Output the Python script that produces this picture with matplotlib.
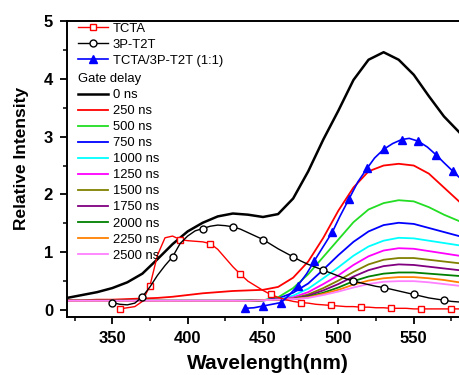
import matplotlib
matplotlib.use("Agg")
import matplotlib.pyplot as plt
from matplotlib.ticker import MultipleLocator

plt.rcParams['font.family'] = ['Liberation Sans', 'DejaVu Sans']

# TCTA steady-state PL, 5 nm steps from 355 nm
tcta_wl = list(range(355, 585, 5))
tcta_val = [0.02, 0.04, 0.06, 0.15, 0.42, 0.95, 1.25, 1.28, 1.22, 1.20,
            1.19, 1.18, 1.15, 1.05, 0.90, 0.75, 0.62, 0.50, 0.42, 0.34,
            0.27, 0.22, 0.18, 0.15, 0.13, 0.12, 0.10, 0.09, 0.08, 0.07,
            0.06, 0.06, 0.05, 0.05, 0.04, 0.04, 0.03, 0.03, 0.03, 0.02,
            0.02, 0.02, 0.02, 0.02, 0.02, 0.02]

# 3P-T2T, 5 nm steps from 350 nm
t2t_wl = list(range(350, 585, 5))
t2t_val = [0.13, 0.10, 0.09, 0.12, 0.23, 0.40, 0.60, 0.77, 0.92, 1.15,
           1.28, 1.37, 1.41, 1.45, 1.47, 1.46, 1.44, 1.40, 1.34, 1.28,
           1.22, 1.14, 1.06, 0.99, 0.92, 0.85, 0.79, 0.74, 0.69, 0.64,
           0.59, 0.54, 0.50, 0.47, 0.44, 0.41, 0.39, 0.36, 0.33, 0.30,
           0.27, 0.24, 0.21, 0.19, 0.17, 0.15, 0.14]

# TCTA/3P-T2T (1:1) blend
blend_wl = [438, 444, 450, 456, 462, 467, 473, 479, 484, 490, 496, 501, 507,
            513, 519, 524, 530, 536, 542, 547, 553, 559, 565, 570, 576, 580]
blend_val = [0.03, 0.04, 0.07, 0.10, 0.13, 0.25, 0.42, 0.63, 0.85, 1.10,
             1.35, 1.62, 1.92, 2.22, 2.45, 2.63, 2.78, 2.88, 2.95, 2.97,
             2.92, 2.82, 2.68, 2.55, 2.40, 2.30]

# time-resolved spectra, 10 nm steps 320-580 nm
gate_wl = list(range(320, 590, 10))
gate_labels = ['0 ns', '250 ns', '500 ns', '750 ns', '1000 ns', '1250 ns',
               '1500 ns', '1750 ns', '2000 ns', '2250 ns', '2500 ns']
gate_colors = ['black', '#ff0000', '#22dd22', '#0000ff', '#00ffff', '#ff00ff',
               '#808000', '#800080', '#008000', '#ff8000', '#ff80ff']
gate_0 = [0.21, 0.26, 0.31, 0.38, 0.48, 0.63, 0.88, 1.14, 1.36, 1.51, 1.62,
          1.67, 1.65, 1.61, 1.66, 1.93, 2.40, 2.95, 3.45, 3.98, 4.33, 4.46,
          4.33, 4.07, 3.70, 3.35, 3.08]
gate_250 = [0.17, 0.17, 0.18, 0.18, 0.19, 0.20, 0.21, 0.23, 0.26, 0.29, 0.31,
            0.33, 0.34, 0.35, 0.40, 0.56, 0.84, 1.25, 1.72, 2.12, 2.40, 2.50,
            2.53, 2.50, 2.36, 2.12, 1.88]
gate_500 = [0.16, 0.16, 0.16, 0.16, 0.16, 0.16, 0.16, 0.16, 0.16, 0.16, 0.16,
            0.16, 0.17, 0.17, 0.22, 0.38, 0.62, 0.92, 1.22, 1.52, 1.74, 1.85,
            1.90, 1.88, 1.78, 1.65, 1.54]
gate_750 = [0.16, 0.16, 0.16, 0.16, 0.16, 0.16, 0.16, 0.16, 0.16, 0.16, 0.16,
            0.16, 0.16, 0.17, 0.20, 0.30, 0.46, 0.70, 0.95, 1.18, 1.36, 1.47,
            1.51, 1.49, 1.42, 1.35, 1.28]
gate_1000 = [0.16, 0.16, 0.16, 0.16, 0.16, 0.16, 0.16, 0.16, 0.16, 0.16, 0.16,
             0.16, 0.16, 0.17, 0.18, 0.25, 0.37, 0.55, 0.74, 0.94, 1.10, 1.20,
             1.25, 1.24, 1.20, 1.16, 1.12]
gate_1250 = [0.16, 0.16, 0.16, 0.16, 0.16, 0.16, 0.16, 0.16, 0.16, 0.16, 0.16,
             0.16, 0.16, 0.17, 0.18, 0.22, 0.31, 0.45, 0.60, 0.78, 0.93, 1.03,
             1.07, 1.06, 1.02, 0.98, 0.94]
gate_1500 = [0.16, 0.16, 0.16, 0.16, 0.16, 0.16, 0.16, 0.16, 0.16, 0.16, 0.16,
             0.16, 0.16, 0.17, 0.18, 0.20, 0.27, 0.38, 0.51, 0.66, 0.79, 0.87,
             0.90, 0.90, 0.87, 0.84, 0.81]
gate_1750 = [0.16, 0.16, 0.16, 0.16, 0.16, 0.16, 0.16, 0.16, 0.16, 0.16, 0.16,
             0.16, 0.16, 0.17, 0.18, 0.19, 0.25, 0.34, 0.45, 0.58, 0.69, 0.76,
             0.79, 0.78, 0.75, 0.72, 0.69]
gate_2000 = [0.16, 0.16, 0.16, 0.16, 0.16, 0.16, 0.16, 0.16, 0.16, 0.16, 0.16,
             0.16, 0.16, 0.17, 0.18, 0.19, 0.23, 0.30, 0.39, 0.50, 0.58, 0.63,
             0.65, 0.65, 0.63, 0.61, 0.59]
gate_2250 = [0.16, 0.16, 0.16, 0.16, 0.16, 0.16, 0.16, 0.16, 0.16, 0.16, 0.16,
             0.16, 0.16, 0.17, 0.18, 0.19, 0.22, 0.28, 0.35, 0.44, 0.51, 0.55,
             0.57, 0.57, 0.55, 0.52, 0.48]
gate_2500 = [0.16, 0.16, 0.16, 0.16, 0.16, 0.16, 0.16, 0.16, 0.16, 0.16, 0.16,
             0.16, 0.16, 0.17, 0.18, 0.19, 0.21, 0.26, 0.32, 0.39, 0.45, 0.49,
             0.50, 0.50, 0.48, 0.45, 0.42]
gate_series = [gate_0, gate_250, gate_500, gate_750, gate_1000, gate_1250,
               gate_1500, gate_1750, gate_2000, gate_2250, gate_2500]

fig = plt.figure(figsize=(4.59, 3.75), dpi=100)
ax = fig.add_axes([67 / 459, 58 / 375, 392 / 459, 296 / 375])

gate_handles = []
for vals, lab, col in zip(gate_series, gate_labels, gate_colors):
    lw = 1.8 if lab == '0 ns' else 1.3
    h, = ax.plot(gate_wl, vals, color=col, lw=lw, label=lab)
    gate_handles.append(h)

h1, = ax.plot(tcta_wl, tcta_val, color='red', lw=1.0, marker='s', ms=5,
              mfc='white', mec='red', mew=1.0, markevery=4, label='TCTA')
h2, = ax.plot(t2t_wl, t2t_val, color='black', lw=1.0, marker='o', ms=5,
              mfc='white', mec='black', mew=1.0, markevery=4, label='3P-T2T')
h3, = ax.plot(blend_wl, blend_val, color='blue', lw=1.2, marker='^', ms=5.5,
              mfc='blue', mec='blue', markevery=2, label='TCTA/3P-T2T (1:1)')

ax.set_xlim(320, 580)
ax.set_ylim(-0.12, 5)
ax.xaxis.set_major_locator(MultipleLocator(50))
ax.xaxis.set_minor_locator(MultipleLocator(25))
ax.yaxis.set_major_locator(MultipleLocator(1))
ax.yaxis.set_minor_locator(MultipleLocator(0.5))
ax.tick_params(which='major', direction='out', length=5, width=1.3,
               labelsize=12, pad=5)
ax.tick_params(which='minor', direction='out', length=3, width=1.1)
ax.tick_params(top=False, right=False, which='both')
for lbl in ax.get_xticklabels() + ax.get_yticklabels():
    lbl.set_fontweight('bold')

for s in ['left', 'bottom', 'top']:
    ax.spines[s].set_linewidth(1.4)
ax.spines['right'].set_visible(False)

ax.set_xlabel('Wavelength(nm)', fontsize=15, fontweight='bold')
ax.set_ylabel('Relative Intensity', fontsize=12.5, fontweight='bold')
ax.xaxis.set_label_coords(0.513, -0.125)
ax.yaxis.set_label_coords(-0.097, 0.537)

leg1 = ax.legend(handles=[h1, h2, h3], loc='upper left',
                 bbox_to_anchor=(0.028, 0.995), frameon=False, fontsize=9.4,
                 handlelength=2.3, handletextpad=0.35, labelspacing=0.3,
                 borderpad=0, borderaxespad=0)
ax.add_artist(leg1)
leg2 = ax.legend(handles=gate_handles, loc='upper left',
                 bbox_to_anchor=(0.028, 0.825), frameon=False, fontsize=9.4,
                 title='Gate delay', title_fontsize=9.4, alignment='left',
                 handlelength=2.3, handletextpad=0.35, labelspacing=0.3,
                 borderpad=0, borderaxespad=0)
leg2._legend_box.sep = 3

fig.savefig('out.png', dpi=100)
